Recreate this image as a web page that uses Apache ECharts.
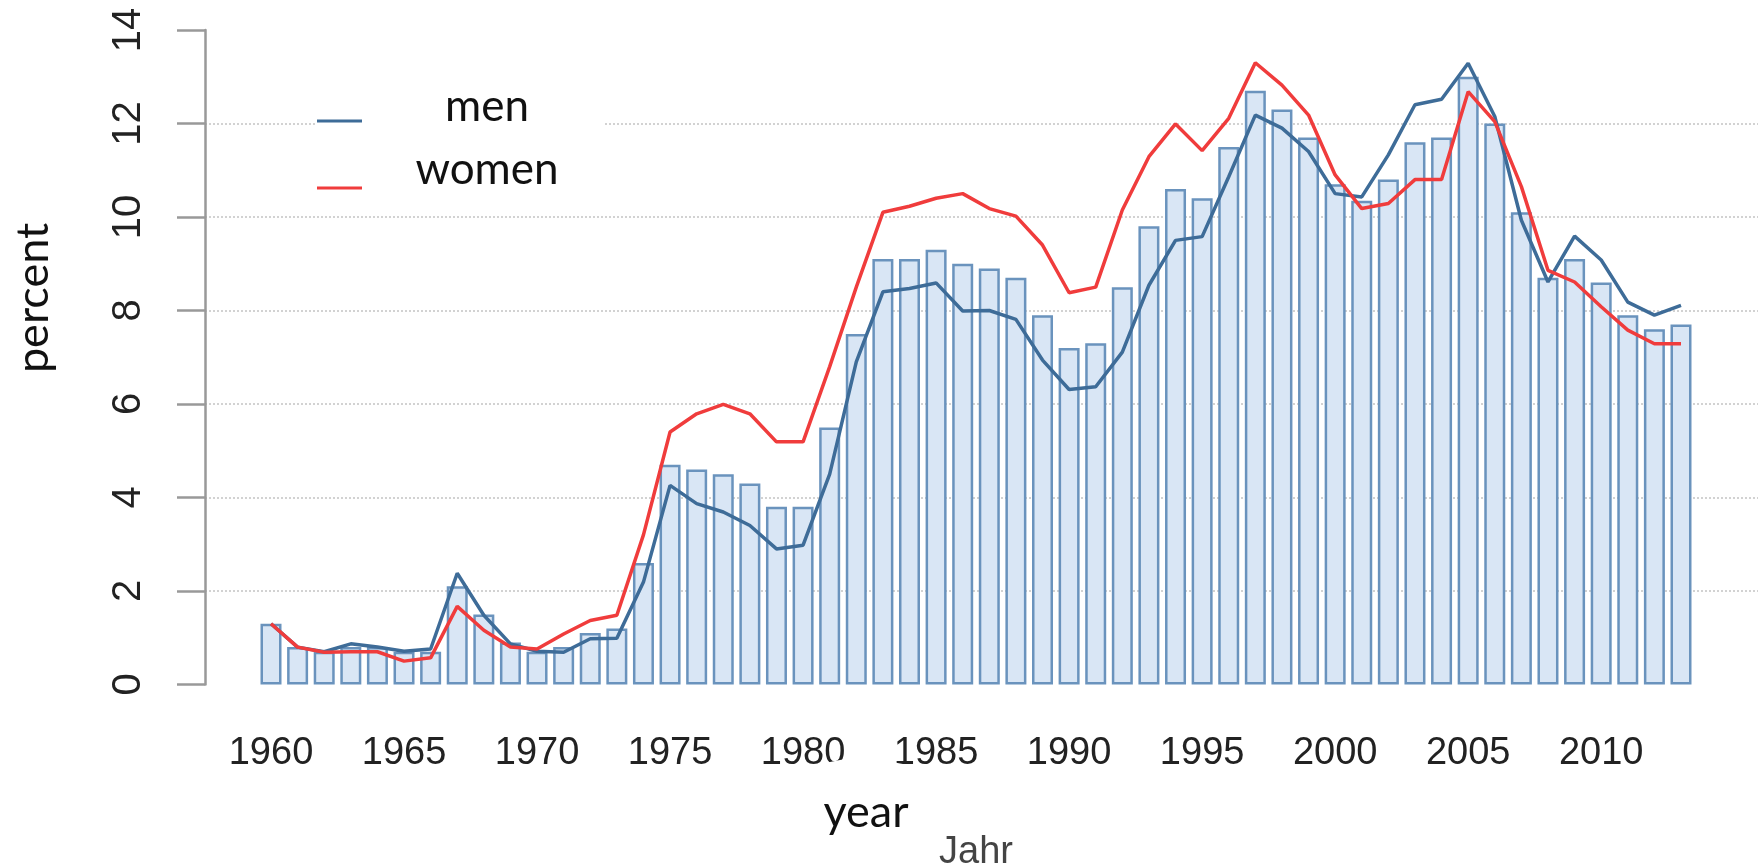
<!DOCTYPE html>
<html>
<head>
<meta charset="UTF-8">
<title>men / women percent by year</title>
<script src="https://cdn.jsdelivr.net/npm/echarts@6/dist/echarts.min.js"></script>
<style>
html,body{margin:0;padding:0;background:#fff;}
#chart{width:1758px;height:864px;}
</style>
</head>
<body>
<div id="chart"></div>
<script>
// years on the x axis
var years = ['1960','1961','1962','1963','1964','1965','1966','1967','1968','1969',
  '1970','1971','1972','1973','1974','1975','1976','1977','1978','1979',
  '1980','1981','1982','1983','1984','1985','1986','1987','1988','1989',
  '1990','1991','1992','1993','1994','1995','1996','1997','1998','1999',
  '2000','2001','2002','2003','2004','2005','2006','2007','2008','2009',
  '2010','2011','2012','2013'];
// bars (total)
var total = [1.3,0.8,0.7,0.8,0.8,0.7,0.7,2.1,1.5,0.9,
  0.7,0.8,1.1,1.2,2.6,4.7,4.6,4.5,4.3,3.8,
  3.8,5.5,7.5,9.1,9.1,9.3,9.0,8.9,8.7,7.9,
  7.2,7.3,8.5,9.8,10.6,10.4,11.5,12.7,12.3,11.7,
  10.7,10.35,10.8,11.6,11.7,13.0,12.0,10.1,8.7,9.1,
  8.6,7.9,7.6,7.7];
var men = [1.3,0.8,0.7,0.87,0.8,0.71,0.76,2.38,1.48,0.87,
  0.71,0.69,0.98,0.99,2.19,4.26,3.87,3.69,3.4,2.9,
  2.98,4.5,6.9,8.4,8.47,8.59,7.99,8.0,7.81,6.94,
  6.31,6.37,7.11,8.54,9.5,9.58,10.86,12.18,11.9,11.4,
  10.5,10.43,11.33,12.4,12.52,13.29,12.15,9.93,8.61,9.59,
  9.08,8.18,7.9,8.11];
var women = [1.3,0.8,0.69,0.7,0.7,0.5,0.57,1.67,1.16,0.8,
  0.76,1.08,1.37,1.48,3.2,5.4,5.79,5.99,5.79,5.19,
  5.19,6.8,8.5,10.1,10.23,10.4,10.5,10.18,10.02,9.4,
  8.38,8.5,10.15,11.29,11.99,11.42,12.11,13.3,12.82,12.18,
  10.9,10.18,10.29,10.8,10.8,12.68,12.04,10.65,8.86,8.61,
  8.08,7.58,7.29,7.29];

var chart = echarts.init(document.getElementById('chart'));
var tickFont = 'Liberation Sans, Arial, sans-serif';

function legendText(pad) {
  return {rich: {a: {width: 240, align: 'center', fontFamily: 'Lato', fontSize: 44,
    lineHeight: 44, color: '#111', padding: [0, 0, pad, 0]}}};
}

var option = {
  animation: false,
  backgroundColor: '#fff',
  grid: [
    {left: 257.7, right: 63.7, top: 30, bottom: 179.5, outerBoundsMode: 'none'},
    // only for the dotted grid lines (2..12), reaching the right edge
    {left: 205, right: 0, top: 123.5, bottom: 272.9, outerBoundsMode: 'none'}
  ],
  xAxis: [
    {
      type: 'category', data: years, gridIndex: 0,
      axisLine: {show: false}, axisTick: {show: false},
      axisLabel: {
        interval: function (i) { return i % 5 === 0; },
        fontFamily: tickFont, fontSize: 38, color: '#222', margin: 50
      },
      name: 'Jahr', nameLocation: 'middle', nameGap: 149,
      nameTextStyle: {fontFamily: tickFont, fontSize: 38, color: '#444'}
    },
    {type: 'value', gridIndex: 1, min: 0, max: 1, show: false}
  ],
  yAxis: [
    {
      type: 'value', gridIndex: 0, min: 0, max: 14, interval: 2, offset: 52.7,
      axisLine: {show: true, lineStyle: {color: '#999', width: 2.5}},
      axisTick: {show: true, length: 28, lineStyle: {color: '#999', width: 2.5}},
      axisLabel: {rotate: 90, fontFamily: tickFont, fontSize: 40, color: '#222', margin: 56},
      splitLine: {show: false}
    },
    {
      type: 'value', gridIndex: 1, min: 2, max: 12, interval: 2,
      axisLine: {show: false}, axisTick: {show: false}, axisLabel: {show: false},
      splitLine: {show: true, lineStyle: {type: 'dotted', color: '#d2d2d2', width: 2}}
    }
  ],
  legend: {
    data: [{name: 'men'}, {name: 'women', textStyle: legendText(36)}],
    orient: 'vertical', left: 317, top: 85,
    padding: 0, itemGap: -9, icon: 'rect', itemWidth: 45, itemHeight: 3,
    formatter: function (n) { return '{a|' + n + '}'; },
    textStyle: legendText(28)
  },
  graphic: [
    {type: 'rect', z: 1, shape: {x: 315, y: 95, width: 290, height: 105}, style: {fill: '#fff'}},
    {type: 'text', z: 10, x: 33, y: 298, rotation: Math.PI / 2,
      style: {text: 'percent', fontFamily: 'Lato', fontSize: 45, fill: '#111',
        textAlign: 'center', textVerticalAlign: 'middle'}},
    {type: 'polygon', z: 100,
      shape: {points: [[800, 768], [850, 758], [892, 762], [930, 769], [930, 780], [800, 780]]},
      style: {fill: '#fff'}},
    {type: 'text', z: 10, x: 866, y: 812,
      style: {text: 'year', fontFamily: 'Lato', fontSize: 45, fill: '#111',
        textAlign: 'center', textVerticalAlign: 'middle'}}
  ],
  series: [
    {
      name: 'total', type: 'bar', data: total, barWidth: 21,
      itemStyle: {color: '#d9e6f5', borderColor: '#6a93bd', borderWidth: 2.5}
    },
    {
      name: 'men', type: 'line', data: men, symbol: 'none',
      itemStyle: {color: '#3e6c98'}, lineStyle: {color: '#3e6c98', width: 3.5}
    },
    {
      name: 'women', type: 'line', data: women, symbol: 'none',
      itemStyle: {color: '#f03c3c'}, lineStyle: {color: '#f03c3c', width: 3.5}
    }
  ]
};
chart.setOption(option);
</script>
</body>
</html>
